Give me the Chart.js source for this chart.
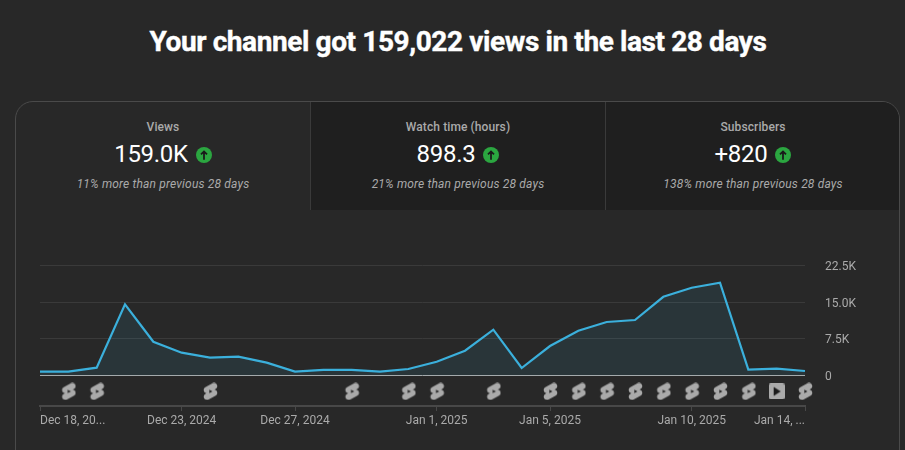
<!DOCTYPE html>
<html><head><meta charset="utf-8">
<script src="https://cdn.jsdelivr.net/npm/chart.js@4"></script>
<style>
html,body{margin:0;padding:0;width:905px;height:450px;overflow:hidden;background:#282828;font-family:Roboto,sans-serif}
#title{position:absolute;left:0;top:24px;width:916px;text-align:center;color:#fff;font-size:28px;font-weight:700;line-height:36px;white-space:nowrap;letter-spacing:-0.4px;-webkit-text-stroke:0.4px #fff}
#card{position:absolute;left:15px;top:101px;width:885px;height:400px;box-sizing:border-box;border:1px solid #4a4a4a;border-radius:18px;overflow:hidden}
.tab{position:absolute;top:0;height:108px;text-align:center;box-sizing:border-box}
.tab .l{position:absolute;top:17px;left:0;right:0;font-size:12px;font-weight:500;color:#aaa;line-height:16px;letter-spacing:0.1px}
.tab .v{position:absolute;top:36px;left:0;right:0;font-size:24px;color:#fff;line-height:32px;white-space:nowrap;letter-spacing:-0.3px}
.tab .v svg{vertical-align:-1px;margin-left:8px}
.tab .s{position:absolute;top:74px;left:0;right:0;font-size:12px;font-style:italic;color:#aaa;line-height:16px;letter-spacing:0.17px}
#t1{left:0;width:294px}
#t2{left:294px;width:295px;background:#1f1f1f;border-left:1px solid #3a3a3a}
#t3{left:589px;width:295px;background:#1f1f1f;border-left:1px solid #3a3a3a}
#wrap{position:absolute;left:16px;top:220px;width:884px;height:230px}
</style></head><body>
<div id="title">Your channel got 159,022 views in the last 28 days</div>
<div id="card">
 <div class="tab" id="t1"><div class="l"></div><div class="v"></div><div class="s"></div></div>
 <div class="tab" id="t2"><div class="l"></div><div class="v"></div><div class="s"></div></div>
 <div class="tab" id="t3"><div class="l"></div><div class="v"></div><div class="s"></div></div>
</div>
<div id="wrap"><canvas id="c" width="884" height="230"></canvas></div>
<script>
const dates = ["Dec 18, 2024","Dec 19, 2024","Dec 20, 2024","Dec 21, 2024","Dec 22, 2024","Dec 23, 2024","Dec 24, 2024","Dec 25, 2024","Dec 26, 2024","Dec 27, 2024","Dec 28, 2024","Dec 29, 2024","Dec 30, 2024","Dec 31, 2024","Jan 1, 2025","Jan 2, 2025","Jan 3, 2025","Jan 4, 2025","Jan 5, 2025","Jan 6, 2025","Jan 7, 2025","Jan 8, 2025","Jan 9, 2025","Jan 10, 2025","Jan 11, 2025","Jan 12, 2025","Jan 13, 2025","Jan 14, 2025"];
const views = [800,800,1600,14560,6900,4670,3650,3850,2620,800,1130,1130,800,1330,2820,5070,9370,1530,6030,9160,10940,11350,16100,17950,18970,1190,1390,920];
const xTickIndexes = [0,5,9,14,18,23,27];
const xTickLabels = ["Dec 18, 20...","Dec 23, 2024","Dec 27, 2024","Jan 1, 2025","Jan 5, 2025","Jan 10, 2025","Jan 14, ..."];
const yTicks = [0,7500,15000,22500];
const yTickLabels = ["0","7.5K","15.0K","22.5K"];
const shortsDays = [1,2,6,11,13,14,16,18,19,20,21,22,23,24,25,27];
const videoDays = [26];
const tabLabels = ["Views","Watch time (hours)","Subscribers"];
const tabValues = ["159.0K","898.3","+820"];
const tabNotes = ["11% more than previous 28 days","21% more than previous 28 days","138% more than previous 28 days"];

const arrow = '<svg width="16" height="16" viewBox="0 0 17 17"><circle cx="8.5" cy="8.5" r="8.5" fill="#2ba640"/><path d="M8.5 13.5V5M5.3 7.9l3.2-3.2 3.2 3.2" fill="none" stroke="#1a1a1a" stroke-width="1.9"/></svg>';
["t1","t2","t3"].forEach((id,i)=>{
  const t=document.getElementById(id);
  t.querySelector('.l').textContent=tabLabels[i];
  t.querySelector('.v').innerHTML='<span></span>'+arrow;
  t.querySelector('.v span').textContent=tabValues[i];
  t.querySelector('.s').textContent=tabNotes[i];
});

function shortsIcon(){
  const c=document.createElement('canvas');c.width=16;c.height=18;
  const g=c.getContext('2d');
  g.translate(8.5,9);g.scale(0.85,0.85);g.translate(-12,-12);
  g.fillStyle='#aaa';
  g.fill(new Path2D("M17.77 10.32c-.77-.32-1.2-.5-1.2-.5L18 9.06c1.84-.96 2.53-3.23 1.56-5.06s-3.24-2.53-5.07-1.56L6 6.94c-1.29.68-2.07 2.04-2 3.49.07 1.42.93 2.67 2.22 3.25.03.01 1.2.5 1.2.5L6 14.93c-1.83.97-2.53 3.24-1.56 5.07.97 1.83 3.24 2.53 5.07 1.56l8.5-4.5c1.29-.68 2.06-2.04 1.99-3.49-.07-1.42-.94-2.68-2.22-3.25z"));
  g.fillStyle='#282828';
  g.fill(new Path2D("M10.6 14v-4L14.4 12l-3.8 2z"));
  return c;
}
function playIcon(){
  const c=document.createElement('canvas');c.width=16;c.height=16;
  const g=c.getContext('2d');
  g.fillStyle='#aaa';g.beginPath();g.roundRect(0,0,16,16,2);g.fill();
  g.fillStyle='#1a1a1a';g.beginPath();g.moveTo(5,3.5);g.lineTo(12,8);g.lineTo(5,12.5);g.closePath();g.fill();
  return c;
}
const iconY = -3250;
const shortsPts = shortsDays.map(i=>({x:dates[i],y:iconY}));
const videoPts = videoDays.map(i=>({x:dates[i],y:iconY}));

new Chart(document.getElementById('c'),{
  type:'line',
  data:{labels:dates,datasets:[
    {data:views,borderColor:'#3bb0dc',borderWidth:2.2,pointRadius:0,tension:0,fill:'origin',backgroundColor:'rgba(59,176,220,0.10)'},
    {data:shortsPts,showLine:false,pointStyle:shortsIcon(),pointRadius:8,clip:false},
    {data:videoPts,showLine:false,pointStyle:playIcon(),pointRadius:8,clip:false}
  ]},
  options:{
    responsive:false,animation:false,
    layout:{padding:{left:24,right:0,top:45.5,bottom:0}},
    plugins:{legend:{display:false},tooltip:{enabled:false}},
    scales:{
      x:{type:'category',offset:false,
        afterBuildTicks:s=>{s.ticks=xTickIndexes.map(i=>({value:i}));},
        afterFit:s=>{s.height=44;},
        grid:{drawOnChartArea:false,drawTicks:true,tickLength:5,tickColor:'#484848',offset:false},
        border:{display:true,color:'#484848',width:2},
        ticks:{autoSkip:false,maxRotation:0,minRotation:0,align:'inner',padding:3,color:'#aaa',font:{family:'Roboto',size:12},
          callback:(v)=>xTickLabels[xTickIndexes.indexOf(v)]}
      },
      y:{position:'right',min:-6240,max:22500,
        afterBuildTicks:s=>{s.ticks=yTicks.map(v=>({value:v}));},
        afterFit:s=>{s.width=95;},
        grid:{drawTicks:false,lineWidth:1,color:c=>c.tick&&c.tick.value===0?'#aaaaaa':'#3a3a3a'},
        border:{display:false},
        ticks:{padding:20,labelOffset:1.5,color:'#aaa',font:{family:'Roboto',size:12},
          callback:(v)=>yTickLabels[yTicks.indexOf(v)]}
      }
    }
  }
});
</script>
</body></html>
